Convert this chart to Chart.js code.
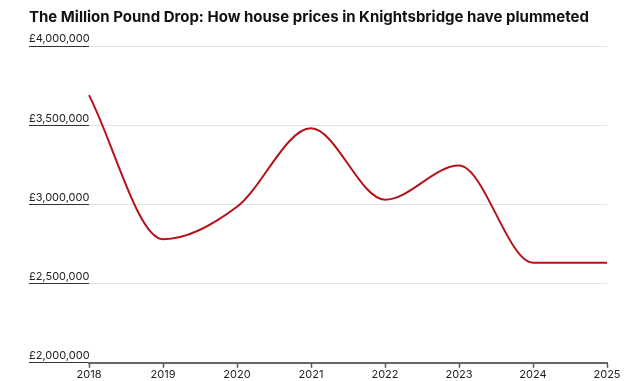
<!DOCTYPE html>
<html>
<head>
<meta charset="utf-8">
<script src="https://cdn.jsdelivr.net/npm/chart.js@4/dist/chart.umd.min.js"></script>
<style>
  html, body { margin: 0; padding: 0; background: #fff; }
  #wrap { width: 634px; height: 381px; position: relative; }
</style>
</head>
<body>
<div id="wrap"><canvas id="c" width="634" height="381"></canvas></div>
<script>
const titleText = 'The Million Pound Drop: How house prices in Knightsbridge have plummeted';
const years = ['2018', '2019', '2020', '2021', '2022', '2023', '2024', '2025'];
const prices = [3690000, 2780000, 2985000, 3480000, 3030000, 3245000, 2632000, 2632000];
const yTicks = [2000000, 2500000, 3000000, 3500000, 4000000];

const FONT = 'Inter, "Noto Sans", sans-serif';

new Chart(document.getElementById('c'), {
  type: 'line',
  data: {
    labels: years,
    datasets: [{
      data: prices,
      borderColor: '#b5121b',
      borderWidth: 2,
      pointRadius: 0,
      cubicInterpolationMode: 'monotone',
      fill: false
    }]
  },
  options: {
    responsive: false,
    animation: false,
    devicePixelRatio: 1,
    layout: { padding: { left: 29, right: 27, top: 0, bottom: 0 } },
    plugins: {
      legend: { display: false },
      tooltip: { enabled: false },
      title: {
        display: true,
        text: titleText,
        align: 'start',
        color: '#111',
        font: { family: FONT, size: 15, weight: 'bold' },
        padding: { top: 8, bottom: 20 }
      }
    },
    scales: {
      x: {
        type: 'category',
        offset: false,
        grid: {
          drawOnChartArea: false,
          drawTicks: true,
          tickLength: 5,
          tickColor: '#555',
          tickWidth: 1.5
        },
        border: { display: true, color: '#666', width: 2 },
        ticks: {
          color: '#222',
          font: { family: FONT, size: 11 },
          padding: 0,
          maxRotation: 0,
          autoSkip: false
        }
      },
      y: {
        min: 2000000,
        max: 4000000,
        afterFit: (s) => { s.width = 60; },
        afterBuildTicks: (s) => { s.ticks = yTicks.map(v => ({ value: v })); },
        grid: {
          color: (ctx) => ctx.tick && ctx.tick.value === 2000000 ? '#666' : '#e3e3e3',
          lineWidth: 1,
          drawTicks: true,
          tickLength: 60,
          tickColor: '#333',
          tickWidth: 1
        },
        border: { display: false },
        ticks: {
          crossAlign: 'far',
          labelOffset: -7,
          padding: 0,
          color: '#222',
          font: { family: FONT, size: 11 },
          callback: (v) => '£' + Number(v).toLocaleString('en-GB')
        }
      }
    }
  }
});
</script>
</body>
</html>
